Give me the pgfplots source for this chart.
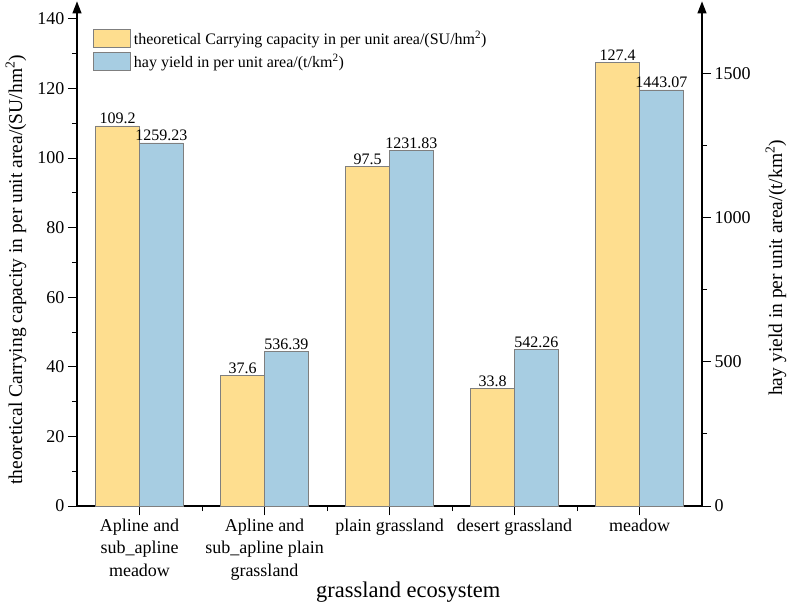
\documentclass[border=0pt]{standalone}
\usepackage{pgfplots}
\usepackage{pgfplotstable}
\pgfplotsset{compat=1.18}
\usepackage{fontspec}
\setmainfont{Liberation Serif}
\usetikzlibrary{arrows.meta}
\definecolor{cyellow}{HTML}{FEDE8F}
\definecolor{cblue}{HTML}{A7CDE2}
\definecolor{cedge}{HTML}{7F7F7F}

\pgfplotstableread{
x y lab
1 109.2 109.2
2 37.6 37.6
3 97.5 97.5
4 33.8 33.8
5 127.4 127.4
}\tcap
\pgfplotstableread{
x y lab
1 1259.23 1259.23
2 536.39 536.39
3 1231.83 1231.83
4 542.26 542.26
5 1443.07 1443.07
}\thay

\begin{document}
\begin{tikzpicture}
\path[use as bounding box] (-77pt,-100pt) rectangle (710pt,506pt);
\pgfplotsset{
  common/.style={
    scale only axis, width=625pt, height=504.6pt,
    xmin=0.5, xmax=5.5, ymin=0,
    at={(0pt,0pt)}, anchor=south west,
    /pgf/number format/assume math mode=true,
    /pgf/number format/1000 sep={},
    ticklabel style={font=\fontsize{18}{22.5}\selectfont},
    major tick length=9pt, minor tick length=5pt,
    tick style={black, line width=0.9pt},
    axis line style={line width=1.3pt},
    x axis line style={-},
    y axis line style={-{Triangle[length=12pt,width=9pt]}},
    ybar, bar width=0.35,
    nodes near coords, point meta=explicit symbolic,
    every node near coord/.append style={font=\fontsize{16}{19}\selectfont, black, inner sep=1.5pt},
    legend image code/.code={\draw[##1,/tikz/.cd] (0pt,-9pt) rectangle (37pt,9pt);},
  }
}
\begin{axis}[common,
  axis x line*=bottom, axis y line*=left,
  xtick align=outside, ytick align=outside,
  ymax=145, ytick={0,20,...,140}, minor ytick={10,30,...,130},
  ytick style={black, line width=0.9pt},
  xtick={1,2,3,4,5}, minor xtick={1.5,2.5,3.5,4.5},
  xticklabels={{Apline and\\sub\_apline\\meadow},{Apline and\\sub\_apline plain\\grassland},{plain grassland},{desert grassland},{meadow}},
  xticklabel style={align=center},
  every axis y label/.style={at={(rel axis cs:0,0.468)}, xshift=-61pt, rotate=90, anchor=center, font=\fontsize{19.5}{23}\selectfont},
  ylabel={theoretical Carrying capacity in per unit area/(SU/hm\textsuperscript{2})},
  every axis x label/.style={at={(rel axis cs:0.53,0)}, yshift=-91pt, anchor=base, font=\fontsize{22.5}{26}\selectfont},
  xlabel={grassland ecosystem},
  legend style={at={(16pt,477pt)}, anchor=north west, draw=none, fill=none,
    font=\fontsize{16}{19}\selectfont, inner sep=0pt, row sep=4pt,
    nodes={inner xsep=3pt, inner ysep=1pt}},
  legend cell align=left,
]
\addplot[fill=cyellow, draw=cedge, line width=0.7pt, bar shift=-0.175] table[x=x, y=y, meta=lab] {\tcap};
\addlegendentry{theoretical Carrying capacity in per unit area/(SU/hm\textsuperscript{2})}
\addlegendimage{fill=cblue, draw=cedge, line width=0.7pt}
\addlegendentry{hay yield in per unit area/(t/km\textsuperscript{2})}
\end{axis}
\begin{axis}[common,
  axis x line*=bottom, x axis line style={draw=none},
  xtick={1,2,3,4,5}, xticklabels={}, minor xtick={},
  xtick style={black, line width=0.9pt}, xtick align=outside,
  axis y line*=right,
  ytick align=outside,
  ytick style={black, line width=0.9pt},
  ymax=1750, ytick={0,500,1000,1500}, minor ytick={250,750,1250},
  every axis y label/.style={at={(rel axis cs:1,0.472)}, xshift=74pt, rotate=90, anchor=center, font=\fontsize{19.5}{23}\selectfont},
  ylabel={hay yield in per unit area/(t/km\textsuperscript{2})},
]
\addplot[fill=cblue, draw=cedge, line width=0.7pt, bar shift=0.175] table[x=x, y=y, meta=lab] {\thay};
\end{axis}
\end{tikzpicture}
\end{document}
